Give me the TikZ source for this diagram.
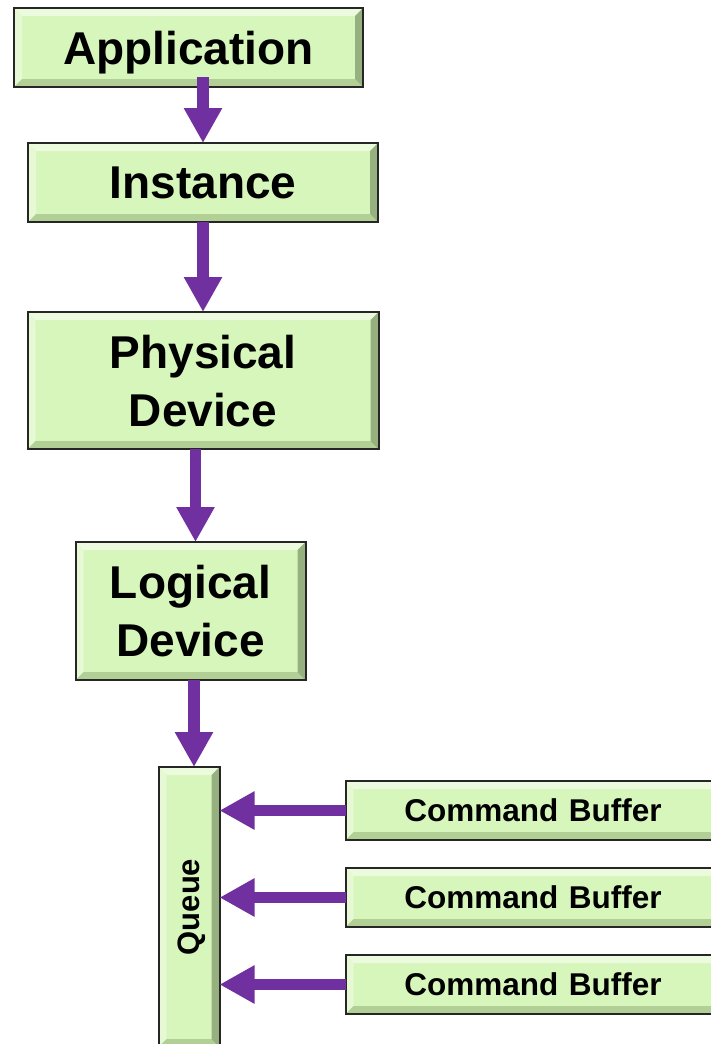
\documentclass[tikz,border=0pt]{standalone}
\usepackage{fontspec}
\setmainfont{Liberation Sans}
\usetikzlibrary{arrows.meta, positioning}

\definecolor{boxgreen}{RGB}{215,246,188}
\definecolor{bevellight}{RGB}{236,251,222}
\definecolor{beveldark}{RGB}{178,208,150}
\definecolor{bevelside}{RGB}{150,176,128}
\definecolor{flowpurple}{RGB}{112,48,160}

\begin{document}
\begin{tikzpicture}[
    node distance=56pt and 126pt,
    every node/.style={draw=black!85, line width=2pt, fill=boxgreen, inner sep=0pt, outer sep=0pt,
        align=center, text depth=0pt, font=\bfseries\fontsize{46}{58}\selectfont,
        path picture={
            \fill[bevellight] (path picture bounding box.north west) -- (path picture bounding box.north east)
                -- ([shift={(-8pt,-8pt)}]path picture bounding box.north east) -- ([shift={(8pt,-8pt)}]path picture bounding box.north west) -- cycle;
            \fill[bevellight!70!boxgreen] (path picture bounding box.north west) -- (path picture bounding box.south west)
                -- ([shift={(8pt,8pt)}]path picture bounding box.south west) -- ([shift={(8pt,-8pt)}]path picture bounding box.north west) -- cycle;
            \fill[beveldark] (path picture bounding box.south west) -- (path picture bounding box.south east)
                -- ([shift={(-8pt,8pt)}]path picture bounding box.south east) -- ([shift={(8pt,8pt)}]path picture bounding box.south west) -- cycle;
            \fill[bevelside] (path picture bounding box.north east) -- (path picture bounding box.south east)
                -- ([shift={(-8pt,8pt)}]path picture bounding box.south east) -- ([shift={(-8pt,-8pt)}]path picture bounding box.north east) -- cycle;
        }},
    bigbox/.style={minimum width=349pt, minimum height=79pt},
    cmdbox/.style={minimum width=375pt, minimum height=59pt, font=\bfseries\fontsize{31.5}{36}\selectfont, text width=335pt},
    arrow/.style={-{Triangle[length=35pt, width=36pt]}, line width=11.5pt, flowpurple}
]

\useasboundingbox (0,0) rectangle (711pt,-1044pt);
\clip (0,0) rectangle (711pt,-1044pt);

% Nodes
\node (app) [bigbox] at (188.5pt,-47.5pt) {Application};
\node (inst) [bigbox, minimum width=350pt, below=of app, xshift=14.5pt] {Instance};
\node (phys) [bigbox, minimum width=351pt, minimum height=137pt, below=90pt of inst] {Physical\\Device};
\node (logic) [minimum width=230pt, minimum height=138pt, below=93pt of phys, xshift=-12.5pt] {Logical\\Device};
\node (queue) [minimum width=61pt, minimum height=280pt, below=87pt of logic, xshift=-1.5pt] {};
\node [draw=none, fill=none, path picture={}, rotate=90, font=\bfseries\fontsize{31}{36}\selectfont] at (queue) {Queue};
\node (cb1) [cmdbox, right=126pt of queue.north east, yshift=-43.5pt] {Command Buffer};
\node (cb2) [cmdbox, below=28pt of cb1] {Command Buffer};
\node (cb3) [cmdbox, below=28pt of cb2] {Command Buffer};

% Arrows
\draw[arrow] ([yshift=10pt]app.south -| inst.north) -- (inst.north);
\draw[arrow] (inst.south) -- (phys.north);
\draw[arrow] ([xshift=5pt]logic.north |- phys.south) -- ([xshift=5pt]logic.north);
\draw[arrow] ([xshift=5pt]queue.north |- logic.south) -- ([xshift=5pt]queue.north);
\draw[arrow] (cb1.west) -- (cb1.west -| queue.east);
\draw[arrow] (cb2.west) -- (cb2.west -| queue.east);
\draw[arrow] (cb3.west) -- (cb3.west -| queue.east);

\end{tikzpicture}
\end{document}
